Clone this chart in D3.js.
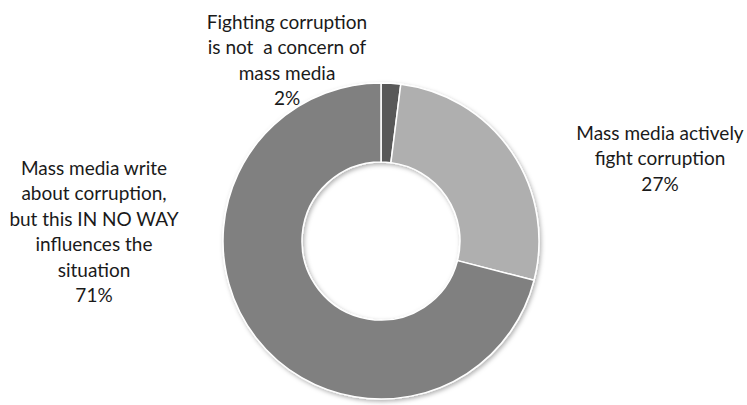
<!DOCTYPE html>
<html>
<head>
<meta charset="utf-8">
<script src="https://cdn.jsdelivr.net/npm/d3@7"></script>
<style>
  body { margin: 0; background: #fff; }
  text { font-family: Lato, "Open Sans", sans-serif; fill: #1a1a1a; }
  tspan { white-space: pre; }
</style>
</head>
<body>
<script>
// Survey answers, in drawing order (clockwise from 12 o'clock)
const answers = [
    "Fighting corruption is not a concern of mass media",
    "Mass media actively fight corruption",
    "Mass media write about corruption, but this IN NO WAY influences the situation"
];
const shares = [2, 27, 71];
const labelLines = [
    ["Fighting corruption", "is not  a concern of", "mass media", "2%"],
    ["Mass media actively", "fight corruption", "27%"],
    ["Mass media write", "about corruption,", "but this IN NO WAY", "influences the", "situation", "71%"]
];
const sliceColors = ["#595959", "#afafaf", "#808080"];

const width = 747;
const height = 405;
const cx = 381, cy = 241;
const outerR = 158, innerR = 79;

const svg = d3.select("body")
    .append("svg")
    .attr("width", width)
    .attr("height", height);

// soft shadow under the ring
const defs = svg.append("defs");
defs.append("filter")
    .attr("id", "shadow")
    .attr("x", "-20%").attr("y", "-20%")
    .attr("width", "140%").attr("height", "140%")
    .append("feDropShadow")
    .attr("dx", 1.5).attr("dy", 2)
    .attr("stdDeviation", 2)
    .attr("flood-color", "#000")
    .attr("flood-opacity", 0.3);

const data = answers.map((a, i) => ({ answer: a, value: shares[i], lines: labelLines[i] }));

const pie = d3.pie()
    .value(d => d.value)
    .sort(null);

const arc = d3.arc()
    .innerRadius(innerR)
    .outerRadius(outerR);

const color = d3.scaleOrdinal()
    .domain(answers)
    .range(sliceColors);

const g = svg.append("g")
    .attr("transform", "translate(" + cx + "," + cy + ")")
    .attr("filter", "url(#shadow)");

g.selectAll("path")
    .data(pie(data))
    .enter().append("path")
    .attr("d", arc)
    .attr("fill", d => color(d.data.answer))
    .attr("stroke", "#fff")
    .attr("stroke-width", 1.5);

// labels sit outside the ring; x is the centre, y the first baseline
const labelPos = [
    { x: 287, y: 29 },
    { x: 660, y: 140 },
    { x: 94, y: 175 }
];
const lineH = 25.4;

svg.selectAll("text.label")
    .data(data)
    .enter().append("text")
    .attr("class", "label")
    .attr("text-anchor", "middle")
    .style("font-size", "19px")
    .each(function(d, i) {
        const t = d3.select(this);
        d.lines.forEach((line, j) => {
            t.append("tspan")
                .attr("x", labelPos[i].x)
                .attr("y", labelPos[i].y + j * lineH)
                .text(line);
        });
    });
</script>
</body>
</html>
